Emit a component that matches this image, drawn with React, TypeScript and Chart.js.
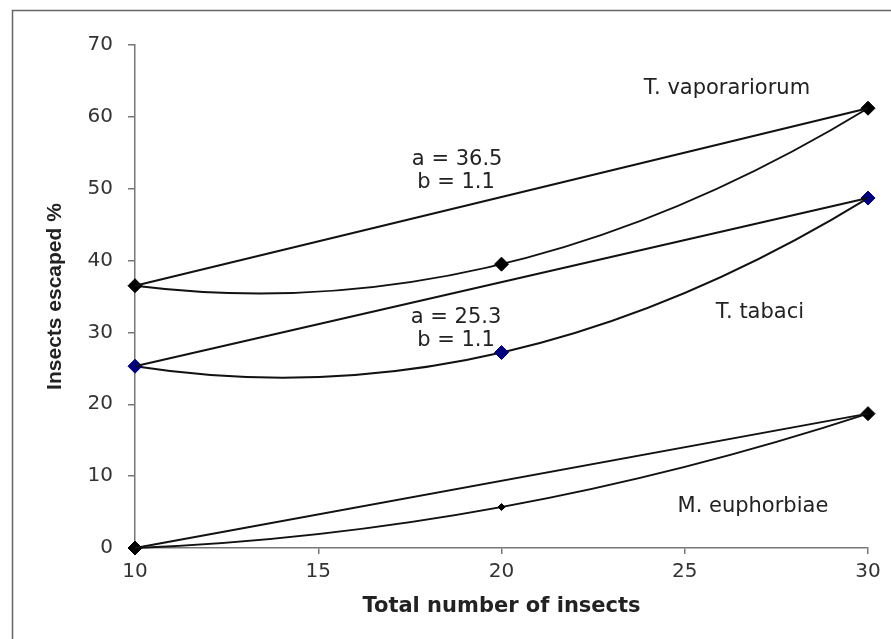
import { useEffect, useRef } from "react";
import { Chart, registerables } from "chart.js";

Chart.register(...registerables);

// ---- data ----
const xValues = [10, 20, 30];
const vaporariorum = [36.5, 39.5, 61.2];
const tabaci = [25.3, 27.2, 48.7];
const euphorbiae = [0, 5.7, 18.7];
const seriesNames = ["T. vaporariorum", "T. tabaci", "M. euphorbiae"];
const xTickValues = [10, 15, 20, 25, 30];
const yTickValues = [0, 10, 20, 30, 40, 50, 60, 70];
const paramTexts = [
  ["a = 36.5", "b = 1.1"],
  ["a = 25.3", "b = 1.1"],
];
const xTitle = "Total number of insects";
const yTitle = "Insects escaped %";

const FONT = "'DejaVu Sans', 'Liberation Sans', Arial, sans-serif";
const FONT_NARROW = "'Liberation Sans', Arial, sans-serif";

const toPoints = (ys: number[]) => ys.map((y, i) => ({ x: xValues[i], y }));
const endPoints = (ys: number[]) => [
  { x: xValues[0], y: ys[0] },
  { x: xValues[xValues.length - 1], y: ys[ys.length - 1] },
];

const allSeries = [vaporariorum, tabaci, euphorbiae];

// parabola through the three points of each series, drawn on the canvas
const curvePlugin = {
  id: "curves",
  beforeDatasetsDraw(chart: any) {
    const { ctx, scales } = chart;
    const xs = scales.x;
    const ysc = scales.y;
    ctx.save();
    ctx.strokeStyle = "#111";
    ctx.lineWidth = 2;
    allSeries.forEach((ys) => {
      const p0 = { x: xs.getPixelForValue(xValues[0]), y: ysc.getPixelForValue(ys[0]) };
      const p1 = { x: xs.getPixelForValue(xValues[1]), y: ysc.getPixelForValue(ys[1]) };
      const p2 = { x: xs.getPixelForValue(xValues[2]), y: ysc.getPixelForValue(ys[2]) };
      const cx = 2 * p1.x - 0.5 * (p0.x + p2.x);
      const cy = 2 * p1.y - 0.5 * (p0.y + p2.y);
      ctx.beginPath();
      ctx.moveTo(p0.x, p0.y);
      ctx.quadraticCurveTo(cx, cy, p2.x, p2.y);
      ctx.stroke();
    });
    ctx.restore();
  },
};

const framePlugin = {
  id: "frame",
  beforeDraw(chart: any) {
    const { ctx, width, height } = chart;
    ctx.save();
    ctx.fillStyle = "#fff";
    ctx.fillRect(0, 0, width, height);
    ctx.strokeStyle = "#666";
    ctx.lineWidth = 1.5;
    ctx.beginPath();
    ctx.moveTo(12.5, height);
    ctx.lineTo(12.5, 10.5);
    ctx.lineTo(width, 10.5);
    ctx.stroke();
    ctx.restore();
  },
};

const labelPlugin = {
  id: "labels",
  afterDatasetsDraw(chart: any) {
    const { ctx, scales } = chart;
    const px = (x: number) => scales.x.getPixelForValue(x);
    const py = (y: number) => scales.y.getPixelForValue(y);
    ctx.save();
    ctx.fillStyle = "#222";
    ctx.textAlign = "center";
    ctx.textBaseline = "middle";
    ctx.font = `21px ${FONT}`;
    ctx.fillText(seriesNames[0], px(26.15), py(63.9));
    ctx.fillText(seriesNames[1], px(27.05), py(32.8));
    ctx.fillText(seriesNames[2], px(26.86), py(5.7));
    ctx.fillText(paramTexts[0][0], px(18.79), py(54.1));
    ctx.fillText(paramTexts[0][1], px(18.76), py(50.8));
    ctx.fillText(paramTexts[1][0], px(18.76), py(32.1));
    ctx.fillText(paramTexts[1][1], px(18.76), py(28.9));
    ctx.restore();
  },
};

export default function App() {
  const ref = useRef<HTMLCanvasElement | null>(null);

  useEffect(() => {
    if (!ref.current) return;
    const lineColor = "#111";
    const lineDs = (name: string, ys: number[]) => ({
      label: name + " line",
      data: endPoints(ys),
      showLine: true,
      borderColor: lineColor,
      borderWidth: 2,
      pointRadius: 0,
      clip: false,
    });
    const chart = new Chart(ref.current, {
      type: "scatter",
      data: {
        datasets: [
          lineDs(seriesNames[0], vaporariorum),
          lineDs(seriesNames[1], tabaci),
          lineDs(seriesNames[2], euphorbiae),
          {
            label: seriesNames[0],
            data: toPoints(vaporariorum),
            showLine: false,
            pointStyle: "rectRot",
            pointRadius: 7,
            backgroundColor: "#000",
            borderColor: "#000",
            borderWidth: 1,
            clip: false,
          },
          {
            label: seriesNames[1],
            data: toPoints(tabaci),
            showLine: false,
            pointStyle: "rectRot",
            pointRadius: 7,
            backgroundColor: "#000080",
            borderColor: "#000080",
            borderWidth: 1,
            clip: false,
          },
          {
            label: seriesNames[2],
            data: toPoints(euphorbiae),
            showLine: false,
            pointStyle: "rectRot",
            pointRadius: [7, 3.5, 7],
            backgroundColor: "#000",
            borderColor: "#000",
            borderWidth: 1,
            clip: false,
          },
        ],
      },
      options: {
        animation: false,
        responsive: false,
        devicePixelRatio: 1,
        layout: { padding: { top: 45, right: 23, left: 0, bottom: 0 } },
        plugins: {
          legend: { display: false },
          tooltip: { enabled: false },
        },
        scales: {
          x: {
            type: "linear",
            min: 10,
            max: 30,
            afterBuildTicks: (scale: any) => {
              scale.ticks = xTickValues.map((v) => ({ value: v }));
            },
            afterFit: (scale: any) => {
              scale.height = 91;
            },
            ticks: {
              color: "#333",
              font: { family: FONT, size: 20 },
              padding: 6,
              maxRotation: 0,
              autoSkip: false,
            },
            grid: {
              drawOnChartArea: false,
              drawTicks: true,
              tickLength: 6,
              color: "#777",
              lineWidth: 1.5,
            },
            border: { display: true, color: "#777", width: 1.5 },
            title: {
              display: true,
              text: xTitle,
              color: "#222",
              font: { family: FONT, size: 21, weight: "bold" },
              padding: { top: 0, bottom: 20 },
            },
          },
          y: {
            type: "linear",
            min: 0,
            max: 70,
            afterBuildTicks: (scale: any) => {
              scale.ticks = yTickValues.map((v) => ({ value: v }));
            },
            afterFit: (scale: any) => {
              scale.width = 135;
            },
            ticks: {
              color: "#333",
              font: { family: FONT, size: 20 },
              padding: 15,
              autoSkip: false,
            },
            grid: {
              drawOnChartArea: false,
              drawTicks: true,
              tickLength: 7,
              color: "#777",
              lineWidth: 1.5,
            },
            border: { display: true, color: "#777", width: 1.5 },
            title: {
              display: true,
              text: yTitle,
              color: "#222",
              font: { family: FONT_NARROW, size: 21, weight: "bold" },
              padding: { top: 43, bottom: 0 },
            },
          },
        },
      },
      plugins: [framePlugin, curvePlugin, labelPlugin],
    } as any);
    return () => chart.destroy();
  }, []);

  return (
    <div style={{ position: "fixed", left: 0, top: 0, width: 891, height: 639, background: "#fff" }}>
      <canvas ref={ref} width={891} height={639} style={{ width: 891, height: 639, display: "block" }} />
    </div>
  );
}
